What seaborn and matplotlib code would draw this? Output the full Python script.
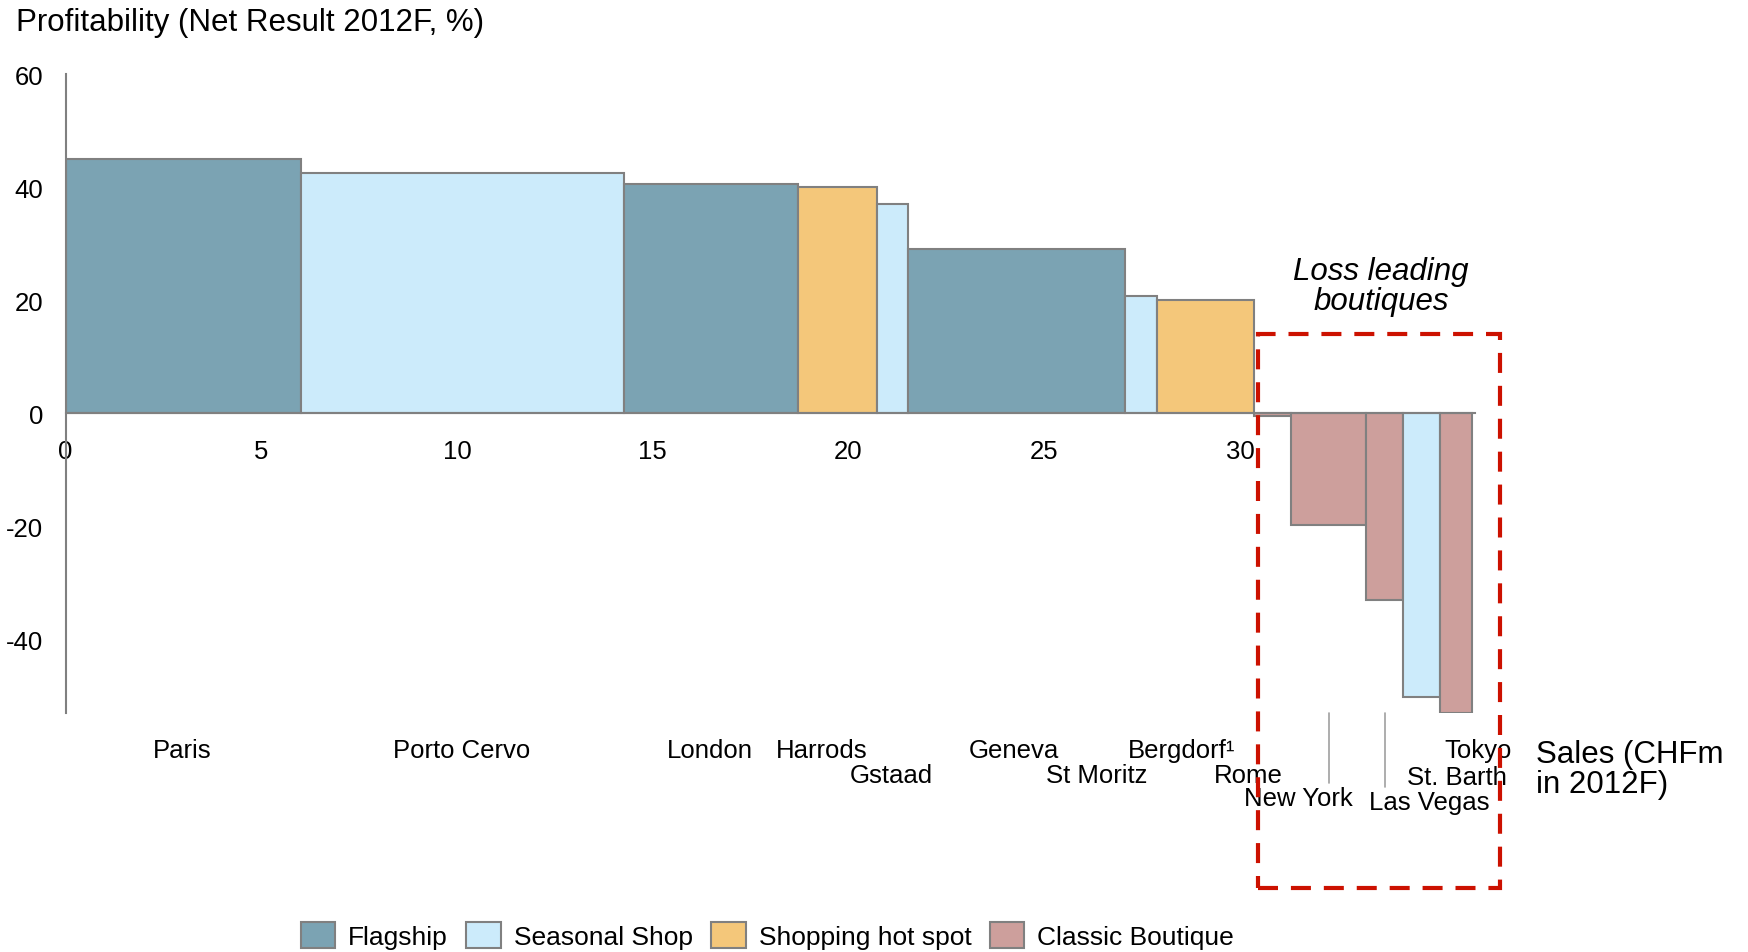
import numpy as np
import pandas as pd
import seaborn as sns
import matplotlib.pyplot as plt
from matplotlib.patches import Rectangle, Patch

sns.set_theme(style='white')
plt.rcParams['font.family'] = ['Liberation Sans', 'DejaVu Sans']
plt.rcParams['axes.unicode_minus'] = False
plt.rcParams['text.color'] = 'black'

# data
stores = ['Paris', 'Porto Cervo', 'London', 'Harrods', 'Gstaad', 'Geneva', 'St Moritz',
          'Bergdorf\u00b9', 'Rome', 'New York', 'Las Vegas', 'St. Barth', 'Tokyo']
sales = [6.02, 8.25, 4.44, 2.02, 0.80, 5.53, 0.82, 2.48, 0.95, 1.91, 0.95, 0.93, 0.82]
profit = [44.9, 42.5, 40.6, 40.0, 37.0, 29.1, 20.8, 20.0, -0.5, -19.8, -33.0, -50.3, -53.0]
store_type = ['Flagship', 'Seasonal Shop', 'Flagship', 'Shopping hot spot', 'Seasonal Shop',
              'Flagship', 'Seasonal Shop', 'Shopping hot spot', 'Classic Boutique',
              'Classic Boutique', 'Classic Boutique', 'Seasonal Shop', 'Classic Boutique']
types = ['Flagship', 'Seasonal Shop', 'Shopping hot spot', 'Classic Boutique']
xticks = [0, 5, 10, 15, 20, 25, 30, 35]
yticks = [60, 40, 20, 0, -20, -40]

df = pd.DataFrame({'store': stores, 'sales': sales, 'profit': profit, 'type': store_type})
df['left'] = df['sales'].cumsum() - df['sales']

colors = dict(zip(types, ['#7BA3B3', '#CCEBFB', '#F4C77A', '#CD9F9C']))
edge = '#808080'

# label placement: (x, row) chosen to avoid overlaps like the original
label_pos = {
    'Paris': (2.98, 0), 'Porto Cervo': (10.11, 0), 'London': (16.45, 0), 'Harrods': (19.32, 0),
    'Gstaad': (21.08, 1), 'Geneva': (24.23, 0), 'St Moritz': (26.33, 1), 'Bergdorf\u00b9': (28.52, 0),
    'Rome': (30.2, 1), 'New York': (31.5, 2), 'Las Vegas': (34.83, 2.2), 'St. Barth': (35.54, 1.1),
    'Tokyo': (36.08, 0),
}
row_y = [-59.6, -64.0, -68.1]

fig = plt.figure(figsize=(17.48, 9.53), dpi=100)
ax = fig.add_axes([0.0375, 0.2513, 0.8287, 0.67])

ax.bar(df['left'], df['profit'], width=df['sales'], align='edge',
       color=[colors[t] for t in df['type']], edgecolor=edge, linewidth=1.5, zorder=2)

ax.set_xlim(0, 37)
ax.set_ylim(-53, 60)
ax.set_xticks(xticks)
ax.set_yticks(yticks)
ax.tick_params(axis='both', labelsize=18.5, labelcolor='black', length=6, width=1.2, color=edge, pad=10)
ax.tick_params(axis='x', direction='out', pad=13)
for s in ['top', 'right']:
    ax.spines[s].set_visible(False)
ax.spines['bottom'].set_position(('data', 0))
ax.spines['bottom'].set_bounds(0, 36)
for s in ['left', 'bottom']:
    ax.spines[s].set_color(edge)
    ax.spines[s].set_linewidth(1.5)
ax.xaxis.get_ticklabels()[0].set_bbox(dict(facecolor='white', edgecolor='none', pad=2))

# category labels under the chart
for _, r in df.iterrows():
    x, row = label_pos[r['store']]
    ri = int(row)
    y = row_y[ri] - (row - ri) * 4
    ax.text(x, y, r['store'], ha='center', va='center', fontsize=18.5, clip_on=False)

# leader lines for New York / Las Vegas
for name, y_end in [('New York', -65.5), ('Las Vegas', -66.1)]:
    r = df[df['store'] == name].iloc[0]
    cx = r['left'] + r['sales'] / 2
    ax.plot([cx, cx], [-53, y_end], color='#A0A0A0', lw=1.2, clip_on=False)

ax.text(37.56, -63, 'Sales (CHFm\nin 2012F)', ha='left', va='center', fontsize=22.5,
        linespacing=1.0, clip_on=False)

# loss leading box
ax.add_patch(Rectangle((30.45, -84), 6.18, 97.9, fill=False, edgecolor='#CC1100', lw=3,
                       linestyle=(0, (4.8, 3.1)), clip_on=False, zorder=5))
ax.text(33.6, 22.4, 'Loss leading\nboutiques', ha='center', va='center', fontsize=22.5,
        style='italic', linespacing=1.0)

fig.text(0.009, 0.976, 'Profitability (Net Result 2012F, %)', ha='left', va='center', fontsize=22.5)

handles = [Patch(facecolor=colors[t], edgecolor=edge, linewidth=1.5, label=t) for t in types]
fig.legend(handles=handles, loc='center', bbox_to_anchor=(0.439, 0.017), ncol=4,
           frameon=False, fontsize=19, handlelength=1.3, handleheight=1.1,
           columnspacing=0.7, handletextpad=0.5)

fig.savefig('out.png', dpi=100)
